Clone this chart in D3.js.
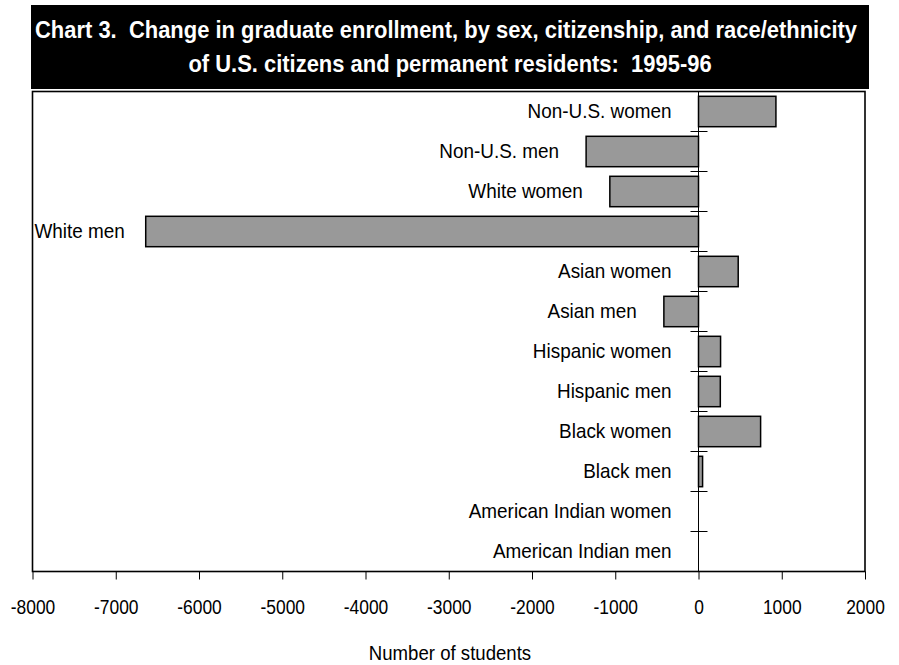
<!DOCTYPE html>
<html>
<head>
<meta charset="utf-8">
<script src="https://cdn.jsdelivr.net/npm/d3@7"></script>
<style>
  body { margin: 0; background: #fff; }
  svg { display: block; font-family: "Liberation Sans", Arial, sans-serif; }
  text { white-space: pre; }
</style>
</head>
<body>
<svg id="chart" width="899" height="665"></svg>
<script>
// --- Data ---
const categories = [
  "Non-U.S. women", "Non-U.S. men", "White women", "White men",
  "Asian women", "Asian men", "Hispanic women", "Hispanic men",
  "Black women", "Black men", "American Indian women", "American Indian men"
];
const changes = [930, -1350, -1065, -6640, 477, -416, 265, 262, 746, 49, 0, 0];
const tickValues = [-8000, -7000, -6000, -5000, -4000, -3000, -2000, -1000, 0, 1000, 2000];
const titleLines = [
  "Chart 3.  Change in graduate enrollment, by sex, citizenship, and race/ethnicity",
  "of U.S. citizens and permanent residents:  1995-96"
];

const svg = d3.select("#chart");
const plot = { left: 32.5, right: 865, top: 91.5, bottom: 571.5 };

// the original uses a narrow face, so squeeze text horizontally
function condense(sel, ratio) {
  sel.each(function () {
    const w = this.getComputedTextLength();
    d3.select(this)
      .attr("textLength", w * ratio)
      .attr("lengthAdjust", "spacingAndGlyphs");
  });
}

// --- Title box ---
svg.append("rect")
  .attr("x", 31).attr("y", 5)
  .attr("width", 838).attr("height", 84)
  .attr("fill", "#000");

const t1 = svg.append("text")
  .attr("x", 446).attr("y", 38)
  .attr("text-anchor", "middle")
  .attr("fill", "#fff")
  .attr("font-weight", "bold")
  .attr("font-size", 24)
  .text(titleLines[0]);
const squeeze = 822 / t1.node().getComputedTextLength();
condense(t1, squeeze);

const t2 = svg.append("text")
  .attr("x", 450).attr("y", 72)
  .attr("text-anchor", "middle")
  .attr("fill", "#fff")
  .attr("font-weight", "bold")
  .attr("font-size", 24)
  .text(titleLines[1]);
condense(t2, squeeze);

// --- Scales ---
const x = d3.scaleLinear()
  .domain([tickValues[0], tickValues[tickValues.length - 1]])
  .range([plot.left, plot.right]);

const y = d3.scaleBand()
  .domain(categories)
  .range([plot.top, plot.bottom])
  .paddingInner(0.24)
  .paddingOuter(0.12);

// --- Plot frame ---
svg.append("rect")
  .attr("x", plot.left).attr("y", plot.top)
  .attr("width", plot.right - plot.left)
  .attr("height", plot.bottom - plot.top)
  .attr("fill", "none")
  .attr("stroke", "#000")
  .attr("stroke-width", 1.6);

// --- Bars ---
svg.append("g")
  .selectAll("rect")
  .data(categories)
  .join("rect")
  .attr("x", (d, i) => x(Math.min(0, changes[i])))
  .attr("y", d => y(d))
  .attr("width", (d, i) => Math.abs(x(changes[i]) - x(0)))
  .attr("height", y.bandwidth())
  .attr("fill", "#999999")
  .attr("stroke", "#000")
  .attr("stroke-width", 1.5);

// --- Zero line with category separators ---
svg.append("line")
  .attr("x1", x(0)).attr("x2", x(0))
  .attr("y1", plot.top).attr("y2", plot.bottom)
  .attr("stroke", "#000").attr("stroke-width", 1);

const step = y.step();
svg.append("g")
  .selectAll("line")
  .data(categories.slice(1))
  .join("line")
  .attr("x1", x(0) - 8).attr("x2", x(0) + 9)
  .attr("y1", d => y(d) - step * y.paddingInner() / 2)
  .attr("y2", d => y(d) - step * y.paddingInner() / 2)
  .attr("stroke", "#000").attr("stroke-width", 1);

// --- Category labels ---
const labelRatio = 0.9;
svg.append("g")
  .selectAll("text")
  .data(categories)
  .join("text")
  .attr("font-size", 21)
  .attr("fill", "#000")
  .attr("y", d => y(d) + y.bandwidth() / 2 + 6.5)
  .text(d => d)
  .each(function (d, i) {
    const el = d3.select(this);
    const w = this.getComputedTextLength() * labelRatio;
    el.attr("textLength", w).attr("lengthAdjust", "spacingAndGlyphs");
    const end = x(Math.min(0, changes[i])) - 27;
    if (end - w < plot.left + 2) {
      el.attr("x", plot.left + 2).attr("text-anchor", "start");
    } else {
      el.attr("x", end).attr("text-anchor", "end");
    }
  });

// --- X axis ---
const axis = svg.append("g")
  .attr("transform", `translate(0,${plot.bottom})`)
  .call(d3.axisBottom(x)
    .tickValues(tickValues)
    .tickSize(8)
    .tickPadding(20)
    .tickFormat(d => String(d)));
axis.select(".domain").remove();
axis.selectAll(".tick line").attr("stroke", "#000");
axis.selectAll(".tick text")
  .attr("font-size", 20)
  .attr("font-family", "Liberation Sans, Arial, sans-serif")
  .attr("fill", "#000")
  .call(condense, 0.87);

const xTitle = svg.append("text")
  .attr("x", 450).attr("y", 660)
  .attr("text-anchor", "middle")
  .attr("font-size", 20)
  .attr("fill", "#000")
  .text("Number of students");
condense(xTitle, 0.93);
</script>
</body>
</html>
